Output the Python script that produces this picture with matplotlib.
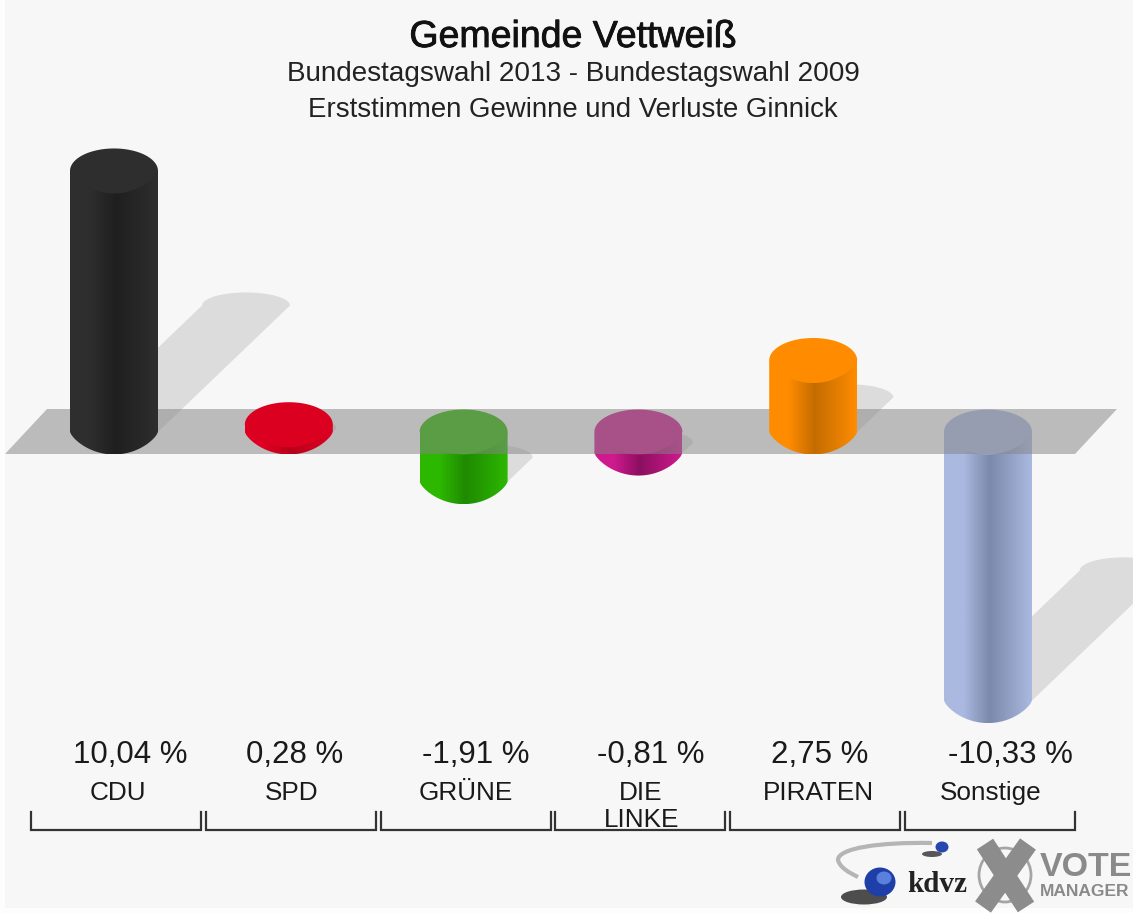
import numpy as np
import matplotlib
matplotlib.use('Agg')
import matplotlib.pyplot as plt
import matplotlib.patheffects as pe
from matplotlib.patches import Ellipse, PathPatch, Rectangle
from matplotlib.path import Path
from matplotlib.colors import to_rgb

plt.rcParams['font.family'] = ['Liberation Sans', 'DejaVu Sans']

W, H = 1133, 913

parties = ['CDU', 'SPD', 'GRÜNE', 'DIE\nLINKE', 'PIRATEN', 'Sonstige']
values = [10.04, 0.28, -1.91, -0.81, 2.75, -10.33]
value_labels = ['10,04 %', '0,28 %', '-1,91 %', '-0,81 %', '2,75 %', '-10,33 %']
edge_colors = ['#2e2e2e', '#de0022', '#2db800', '#cf1a8e', '#ff8c00', '#aab9e0']
mid_colors = ['#1f1f1f', '#b8001c', '#1f8a00', '#8c0f60', '#c46c00', '#7b89ab']
cap_colors = ['#2e2e2e', '#dc0020', '#2db800', '#cf1a8e', '#ff8c00', '#aab9e0']

# pixel layout
x0_px, step_px = 114.0, 174.8
y0_px, px_per_pct = 432.0, 26.0
half_w = 44.0 / step_px
ry = 22.5 / px_per_pct


def fx(x):
    return x / W


def fy(y):
    return 1 - y / H


fig = plt.figure(figsize=(W / 100, H / 100), dpi=100, facecolor='#fdfdfd')
ax = fig.add_axes([0, 0, 1, 1])
ax.set_axis_off()
xlim = (-x0_px / step_px, (W - x0_px) / step_px)
ylim = ((y0_px - H) / px_per_pct, y0_px / px_per_pct)


def X(p):
    return (p - x0_px) / step_px


def Y(p):
    return (y0_px - p) / px_per_pct


# panel
ax.add_patch(Rectangle((X(5), Y(908)), (W - 5) / step_px, 908 / px_per_pct,
                       fc='#f7f7f7', ec='none', zorder=0))

# shadows
t = np.linspace(0, np.pi, 40)
for i, v in enumerate(values):
    start = min(v, 0)
    dx = abs(v) * 13.15 / step_px
    dy = abs(v) * 12.6 / px_per_pct
    ax_x = i + half_w * np.cos(t) + dx
    ax_y = start + dy + 0.58 * ry * np.sin(t)
    xs = np.r_[i + half_w, ax_x, i - half_w]
    ys = np.r_[start, ax_y, start]
    ax.fill(xs, ys, color='black', alpha=0.105, lw=0, zorder=1)

# ground plane
ax.fill([X(5), X(47), X(1117), X(1075)], [Y(454), Y(409), Y(409), Y(454)],
        color='#858585', alpha=0.52, lw=0, zorder=3)

# cylinders
for i, v in enumerate(values):
    top, bot = max(v, 0), min(v, 0)
    z = 4 if v > 0 else 2
    e = np.array(to_rgb(edge_colors[i]))
    m = np.array(to_rgb(mid_colors[i]))
    u = np.linspace(0, 1, 160)
    w = np.where(u < 0.52, np.clip((u - 0.22) / 0.30, 0, 1), np.clip((1.0 - u) / 0.48, 0, 1))[:, None]
    grad = (e * (1 - w) + m * w)[None, :, :]
    s = np.linspace(-1, 1, 60)
    arc = (1 - s ** 2) ** 0.75
    px = np.r_[i - half_w, i + half_w * s, i + half_w, i - half_w]
    py = np.r_[top, bot - ry * arc, top, top]
    body = PathPatch(Path(np.c_[px, py]), fc='none', ec='none', transform=ax.transData)
    ax.add_patch(body)
    im = ax.imshow(grad, extent=(i - half_w, i + half_w, bot - ry, top), aspect='auto',
                   origin='lower', zorder=z, interpolation='bilinear')
    im.set_clip_path(body)
    # cap: round above, flatter arc below
    a = np.linspace(np.pi, 0, 50)
    cx = np.r_[i + half_w * np.cos(a), i - half_w * s]
    cy = np.r_[top + ry * np.sin(a), top - ry * arc]
    ax.fill(cx, cy, color=cap_colors[i], lw=0, zorder=z + 0.1)

ax.set_xlim(xlim)
ax.set_ylim(ylim)

# titles
fig.text(fx(573), fy(37), 'Gemeinde Vettweiß', ha='center', va='center', fontsize=27,
         color='#111111', path_effects=[pe.withStroke(linewidth=0.6, foreground='#111111')])
fig.text(fx(573), fy(74), 'Bundestagswahl 2013 - Bundestagswahl 2009', ha='center', va='center',
         fontsize=20.1, color='#222222')
fig.text(fx(573), fy(110), 'Erststimmen Gewinne und Verluste Ginnick', ha='center', va='center',
         fontsize=19.9, color='#222222')

# value and party labels
value_x = [130, 295, 476, 651, 820, 1010]
label_x = [118, 292, 466, 641, 818, 991]
for i in range(len(parties)):
    fig.text(fx(value_x[i]), fy(755), value_labels[i], ha='center', va='center',
             fontsize=22.5, color='#1a1a1a')
    parts = parties[i].split('\n')
    fig.text(fx(label_x[i]), fy(793), parts[0], ha='center', va='center', fontsize=18.8,
             color='#1a1a1a')
    if len(parts) > 1:
        fig.text(fx(label_x[i] + 1), fy(820), parts[1], ha='center', va='center', fontsize=18.8,
                 color='#1a1a1a')
    # brackets
    left = 31 + step_px * i
    right = left + 170
    ax.plot([X(left), X(left), X(right), X(right)], [Y(812), Y(829.5), Y(829.5), Y(812)],
            color='#333333', lw=1.6, zorder=5, solid_joinstyle='miter')

# logos
swoosh = [(932, 843), (880, 842), (838, 848), (838, 860), (840, 868), (850, 873), (858, 877)]
swoosh_codes = [Path.MOVETO, Path.CURVE4, Path.CURVE4, Path.CURVE4, Path.CURVE4, Path.CURVE4, Path.CURVE4]
ax.add_patch(PathPatch(Path([(X(a), Y(b)) for a, b in swoosh], swoosh_codes), fc='none', ec='#b5b5b5',
                       lw=3, zorder=5))
ax.add_patch(Ellipse((X(864), Y(897)), 46 / step_px, 15 / px_per_pct, fc='#222222', ec='none',
                     alpha=0.8, zorder=5))
ax.add_patch(Ellipse((X(880), Y(882)), 31 / step_px, 29 / px_per_pct, fc='#1f3fa8', ec='none', zorder=6))
ax.add_patch(Ellipse((X(884), Y(878)), 15 / step_px, 13 / px_per_pct, fc='#5b7fdc', ec='none', zorder=6))
ax.add_patch(Ellipse((X(932), Y(854)), 20 / step_px, 6 / px_per_pct, fc='#222222', ec='none',
                     alpha=0.75, zorder=5))
ax.add_patch(Ellipse((X(942), Y(847)), 13 / step_px, 11 / px_per_pct, fc='#2448b0', ec='none', zorder=6))
fig.text(fx(937), fy(884), 'kdvz', ha='center', va='center', fontsize=21, fontweight='bold',
         family='Liberation Serif', color='#222222')
ax.add_patch(Ellipse((X(1005), Y(875)), 52 / step_px, 54 / px_per_pct, fc='none', ec='#a5a5a5', lw=2,
                     zorder=5))
ax.plot([X(983), X(1028)], [Y(907), Y(844)], color='#8c8c8c', lw=14, zorder=6, solid_capstyle='butt')
ax.plot([X(985), X(1026)], [Y(844), Y(907)], color='#8c8c8c', lw=14, zorder=6, solid_capstyle='butt')
fig.text(fx(1040), fy(867), 'VOTE', ha='left', va='center', fontsize=24.5, fontweight='bold', color='#8a8a8a')
fig.text(fx(1040), fy(891), 'MANAGER', ha='left', va='center', fontsize=12.5, fontweight='bold',
         color='#8a8a8a')

fig.savefig('out.png', dpi=100, facecolor=fig.get_facecolor())
